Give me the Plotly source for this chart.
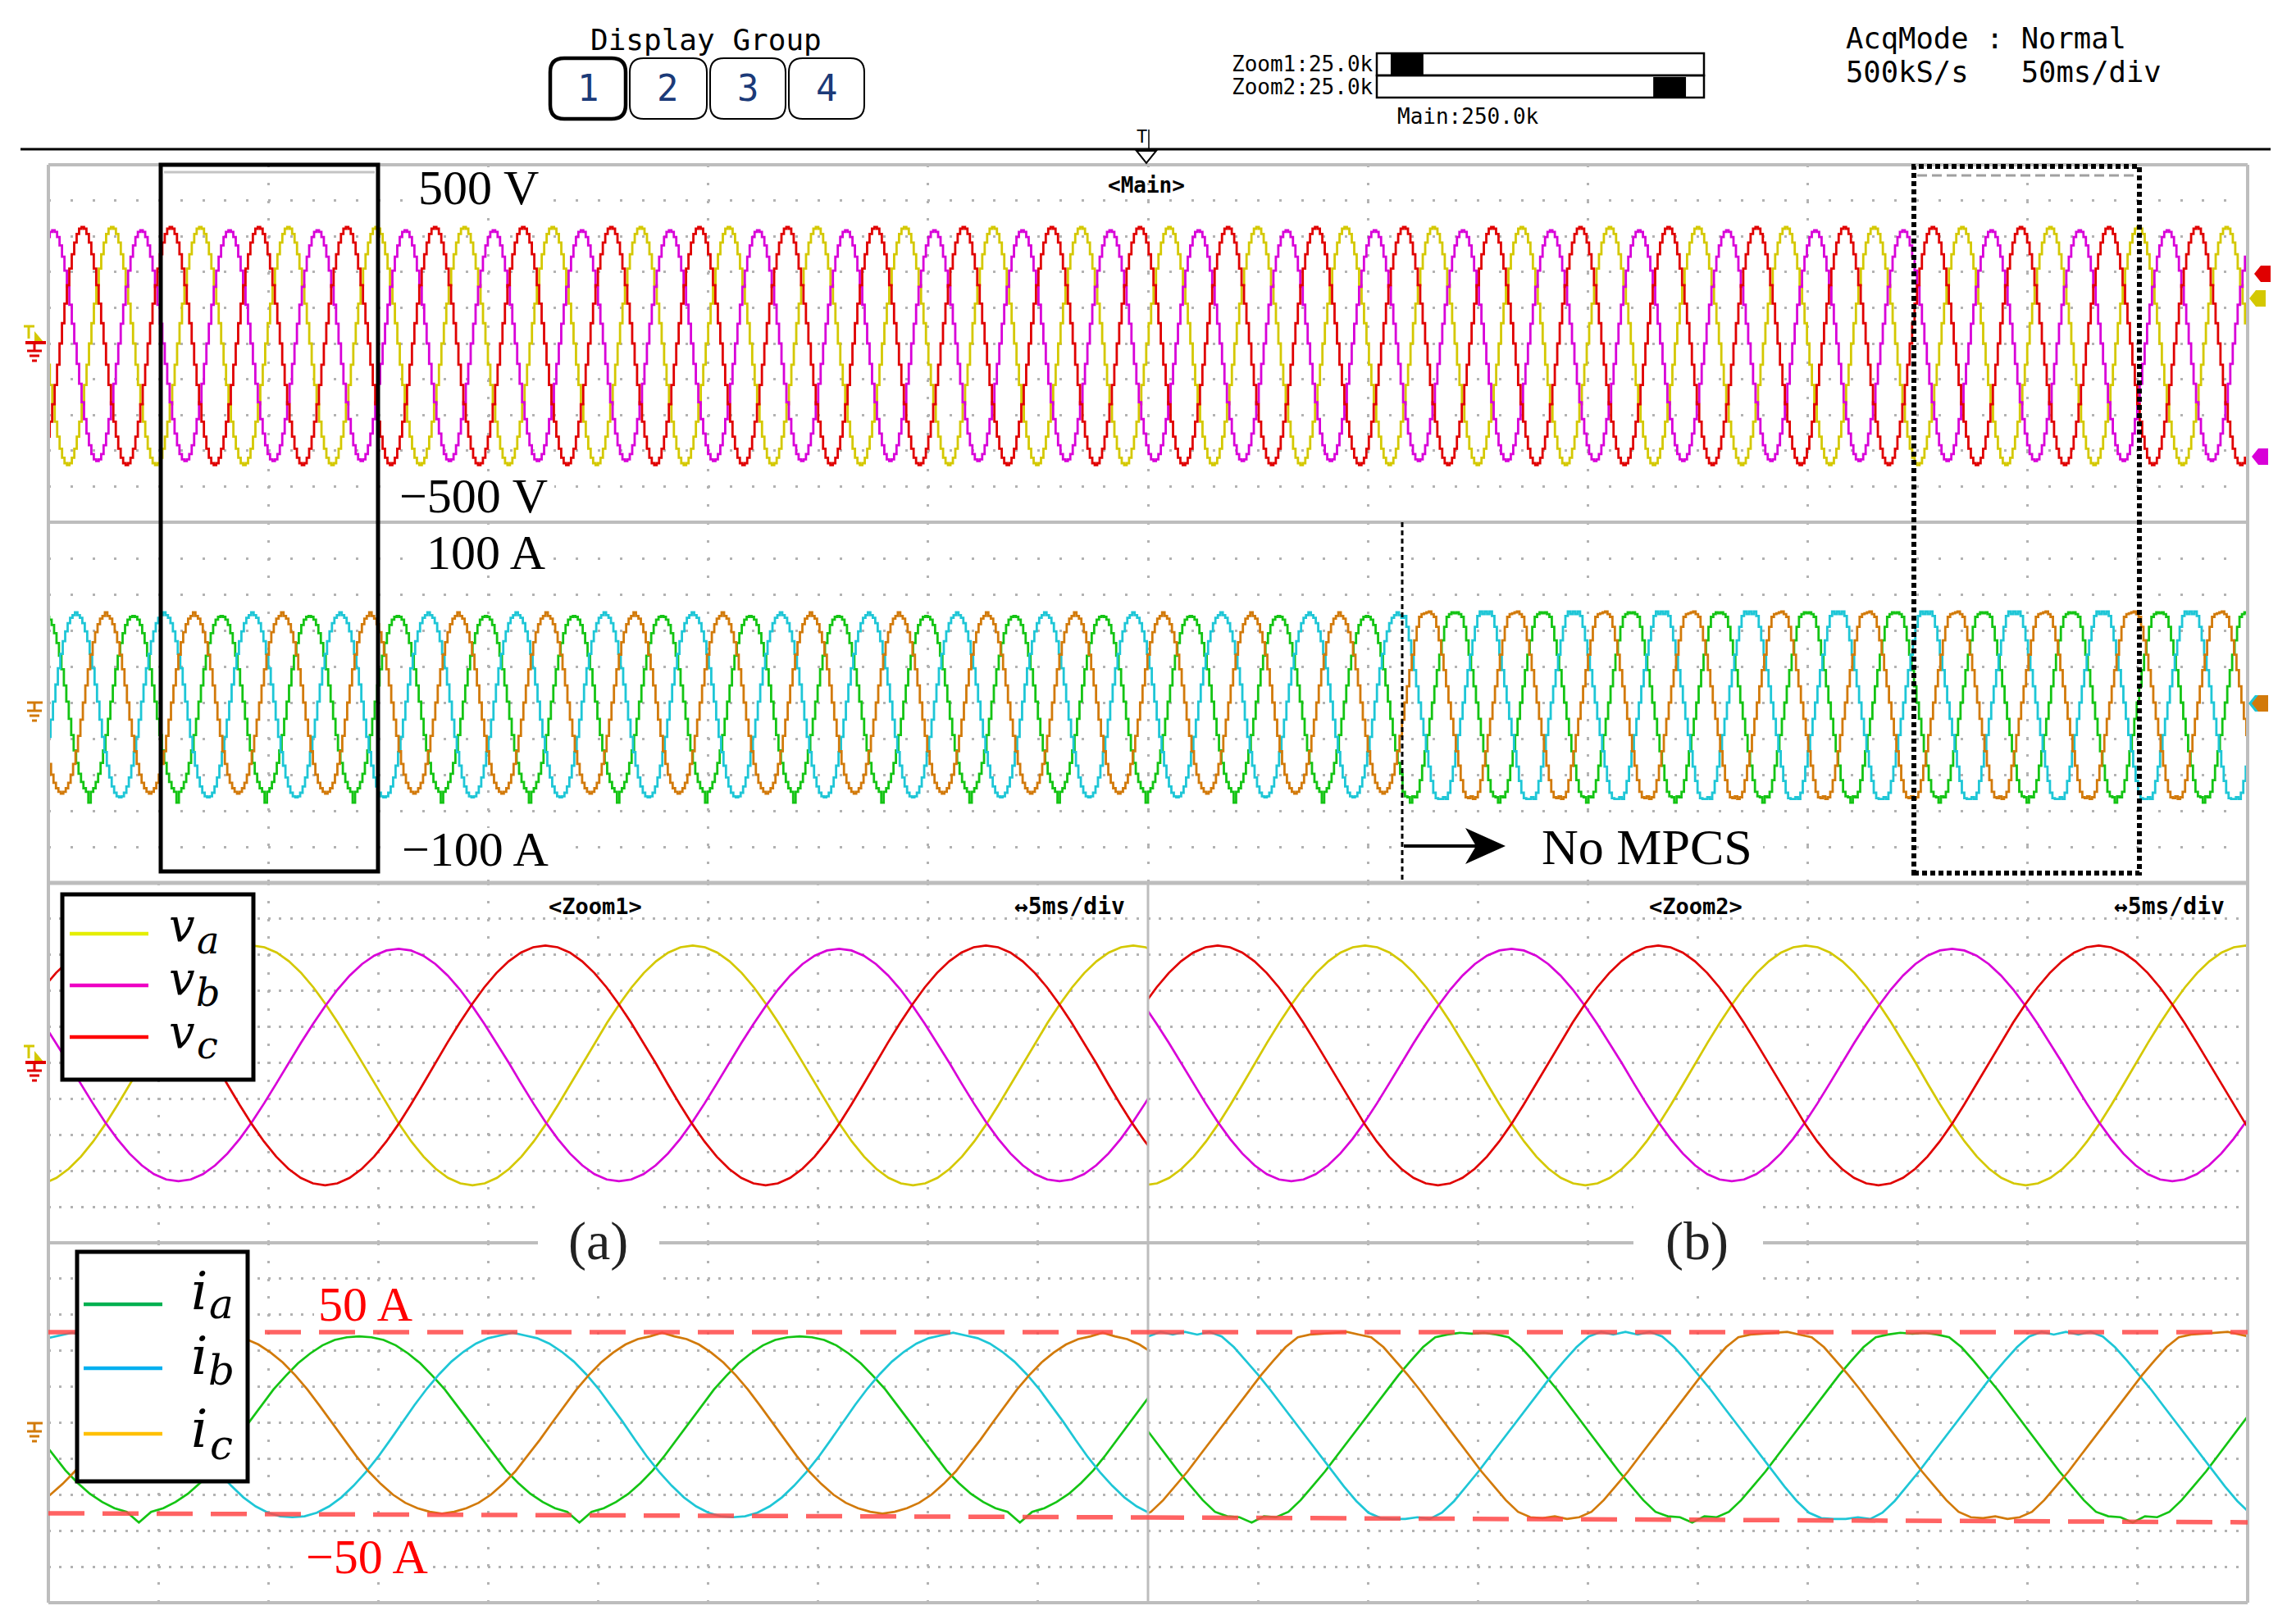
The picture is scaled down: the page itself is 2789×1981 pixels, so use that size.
import plotly.graph_objects as go

W, H = 2789, 1981

# ------------------------------------------------------------------ data
PERIOD_MS = 20.03
MAIN_RANGE_MS = [0.0, 500.0]
ZOOM1_RANGE_MS = [25.0, 75.0]
ZOOM2_RANGE_MS = [425.0, 475.0]
SWITCH_MS = 307.8            # "No MPCS" from here on
V_RANGE = [-500, 500]
I_RANGE = [-100, 100]
MAIN_TICKS_MS = [50, 100, 150, 200, 250, 300, 350, 400, 450]
ZOOM1_TICKS_MS = [30, 35, 40, 45, 50, 55, 60, 65, 70]
ZOOM2_TICKS_MS = [430, 435, 440, 445, 450, 455, 460, 465, 470]
V_TICKS = [-400, -300, -200, -100, 0, 100, 200, 300, 400]
I_TICKS = [-80, -60, -40, -20, 0, 20, 40, 60, 80]

V_NAMES = ["va", "vb", "vc"]
I_NAMES = ["ia", "ib", "ic"]

# one cycle (36 samples, 10 deg apart) starting at the positive peak
V_SHAPE = [1.00, 0.985, 0.94, 0.866, 0.766, 0.643, 0.50, 0.342, 0.174, 0.0,
           -0.174, -0.342, -0.50, -0.643, -0.766, -0.866, -0.94, -0.985, -1.00,
           -0.985, -0.94, -0.866, -0.766, -0.643, -0.50, -0.342, -0.174, 0.0,
           0.174, 0.342, 0.50, 0.643, 0.766, 0.866, 0.94, 0.985]
V_PEAK_V = [326, 317, 326]
V_TROUGH_V = [340, 329, 340]
V_PEAK_MS = [14.24, 0.87, 7.54]

# currents with MPCS (amperes)
IA_MPCS = [48.0, 47.5, 46.0, 43.0, 38.5, 33.0, 26.0, 18.5, 9.5, 0.5,
           -9.0, -18.0, -26.5, -33.5, -39.5, -44.0, -47.5, -49.5, -55.5,
           -49.5, -47.5, -44.0, -39.5, -33.5, -26.5, -18.0, -9.0, 0.5,
           9.5, 18.5, 26.0, 33.0, 38.5, 43.0, 46.0, 47.5]
IB_MPCS = [50.0, 48.5, 47.0, 44.0, 39.5, 34.0, 27.0, 19.0, 10.0, 0.5,
           -9.5, -19.0, -27.5, -35.0, -41.5, -46.5, -50.0, -52.0, -52.5,
           -52.0, -50.0, -46.5, -41.5, -35.0, -27.5, -19.0, -9.5, 0.5,
           10.0, 19.0, 27.0, 34.0, 39.5, 44.0, 47.0, 48.5]
IC_MPCS = [50.0, 48.0, 46.5, 43.5, 39.0, 33.5, 26.5, 18.5, 9.5, 0.0,
           -9.5, -18.5, -27.0, -34.0, -40.0, -44.5, -47.5, -49.5, -50.5,
           -49.5, -47.5, -44.5, -40.0, -34.0, -27.0, -18.5, -9.5, 0.0,
           9.5, 18.5, 26.5, 33.5, 39.0, 43.5, 46.5, 48.0]
# currents without MPCS (flat-topped)
IA_NOMPCS = [49.5, 50.0, 49.0, 47.5, 42.0, 34.5, 26.5, 18.0, 9.0, 0.0,
             -9.0, -18.0, -27.0, -35.0, -43.0, -49.5, -52.0, -52.5, -55.5,
             -52.0, -52.5, -49.5, -43.0, -35.0, -27.0, -18.0, -9.0, 0.0,
             9.0, 18.0, 26.5, 34.5, 42.0, 47.5, 49.0, 50.0]
IB_NOMPCS = [50.5, 49.0, 50.5, 48.0, 42.0, 34.5, 26.5, 18.0, 9.0, 0.0,
             -9.0, -18.0, -27.0, -35.5, -43.5, -50.0, -53.0, -53.5, -53.5,
             -52.5, -53.5, -50.0, -43.5, -35.5, -27.0, -18.0, -9.0, 0.0,
             9.0, 18.0, 26.5, 34.5, 42.0, 48.0, 50.5, 49.0]
IC_NOMPCS = [50.0, 50.5, 49.0, 47.5, 42.0, 34.5, 26.5, 18.0, 9.0, 0.0,
             -9.0, -18.0, -27.0, -35.0, -43.0, -49.5, -52.5, -53.0, -52.0,
             -53.5, -52.5, -49.5, -43.0, -35.0, -27.0, -18.0, -9.0, 0.0,
             9.0, 18.0, 26.5, 34.5, 42.0, 47.5, 49.0, 49.5]
I_PEAK_MS = [19.10, 6.05, 12.85]

# red dashed reference lines in the zoomed current windows (A, left -> right)
LIMIT_Z1 = [[50.3, 50.3], [-50.3, -52.6]]
LIMIT_Z2 = [[50.3, 50.3], [-52.6, -55.3]]

V_COLORS = ["#d4c800", "#d800d8", "#e00000"]
I_COLORS = ["#14c414", "#1ec6d6", "#d27a0a"]
V_LEG_COLORS = ["#e4ee00", "#ee00c4", "#ff0000"]
I_LEG_COLORS = ["#00b050", "#00b0f0", "#ffc000"]

GRID = "#b2b2b2"
FRAME = "#bdbdbd"
SERIF = "Liberation Serif"
MATH = "DejaVu Serif"
MONO = "DejaVu Sans Mono"


# ------------------------------------------------------------------ helpers
def px(x):
    return x / W


def py(y):
    return 1 - y / H


def tile(shape, t_peak, t_range, shape_after=None):
    n = len(shape)
    step = PERIOD_MS / n
    t0, t1 = t_range
    k0 = int((t0 - t_peak) // PERIOD_MS) - 1
    k1 = int((t1 - t_peak) // PERIOD_MS) + 1
    ts, ys = [], []
    for k in range(k0, k1 + 1):
        for j in range(n):
            t = t_peak + k * PERIOD_MS + j * step
            if t0 - step <= t <= t1 + step:
                use = shape_after if (shape_after is not None and t >= SWITCH_MS) else shape
                ts.append(round(t, 3))
                ys.append(use[j])
    return ts, ys


def v_cycle(i):
    return [V_PEAK_V[i] * s if s >= 0 else V_TROUGH_V[i] * s for s in V_SHAPE]


shapes = []
annots = []


def line(x0, y0, x1, y1, color, width, dash=None):
    d = dict(color=color, width=width)
    if dash:
        d["dash"] = dash
    shapes.append(dict(type="line", xref="paper", yref="paper", x0=px(x0), y0=py(y0),
                       x1=px(x1), y1=py(y1), line=d, layer="above"))


def rect(x0, y0, x1, y1, color=None, width=0, fill=None, dash=None):
    d = dict(color=color if color else "rgba(0,0,0,0)", width=width)
    if dash:
        d["dash"] = dash
    shapes.append(dict(type="rect", xref="paper", yref="paper", x0=px(x0), y0=py(y1),
                       x1=px(x1), y1=py(y0), line=d,
                       fillcolor=fill if fill else "rgba(0,0,0,0)", layer="above"))


def poly(points, fill, color=None, width=0):
    d = "M " + " L ".join(f"{px(x):.5f},{py(y):.5f}" for x, y in points) + " Z"
    shapes.append(dict(type="path", xref="paper", yref="paper", path=d, fillcolor=fill,
                       line=dict(color=color if color else fill, width=width), layer="above"))


def rounded(x0, y0, x1, y1, r, width):
    P = lambda x, y: f"{px(x):.5f},{py(y):.5f}"
    d = (f"M {P(x0 + r, y0)} L {P(x1 - r, y0)} Q {P(x1, y0)} {P(x1, y0 + r)} "
         f"L {P(x1, y1 - r)} Q {P(x1, y1)} {P(x1 - r, y1)} L {P(x0 + r, y1)} "
         f"Q {P(x0, y1)} {P(x0, y1 - r)} L {P(x0, y0 + r)} Q {P(x0, y0)} {P(x0 + r, y0)} Z")
    shapes.append(dict(type="path", xref="paper", yref="paper", path=d,
                       fillcolor="white", line=dict(color="black", width=width), layer="above"))


def text(x, y, s, size, color="black", family=SERIF, xanchor="center", bold=False, italic=False):
    if bold:
        s = f"<b>{s}</b>"
    if italic:
        s = f"<i>{s}</i>"
    annots.append(dict(x=px(x), y=py(y), xref="paper", yref="paper", text=s, showarrow=False,
                       xanchor=xanchor, yanchor="middle", borderpad=0,
                       font=dict(family=family, size=size, color=color)))


# ------------------------------------------------------------------ figure
fig = go.Figure()

# main voltages
for i, name in enumerate(V_NAMES):
    t, v = tile(v_cycle(i), V_PEAK_MS[i], MAIN_RANGE_MS)
    fig.add_trace(go.Scatter(x=t, y=v, mode="lines", line=dict(color=V_COLORS[i], width=2.8, shape="hv"),
                             xaxis="x", yaxis="y", name=name, hoverinfo="skip"))
# main currents (MPCS -> No MPCS)
I_MPCS = [IA_MPCS, IB_MPCS, IC_MPCS]
I_NOMPCS = [IA_NOMPCS, IB_NOMPCS, IC_NOMPCS]
for i, name in enumerate(I_NAMES):
    t, c = tile(I_MPCS[i], I_PEAK_MS[i], MAIN_RANGE_MS, I_NOMPCS[i])
    fig.add_trace(go.Scatter(x=t, y=c, mode="lines", line=dict(color=I_COLORS[i], width=2.8, shape="hv"),
                             xaxis="x2", yaxis="y2", name=name, hoverinfo="skip"))
# zoom windows
for (xa, ya_v, ya_i, rng, ishapes) in [("x3", "y3", "y4", ZOOM1_RANGE_MS, I_MPCS),
                                       ("x5", "y5", "y6", ZOOM2_RANGE_MS, I_NOMPCS)]:
    xa_i = "x4" if xa == "x3" else "x6"
    for i, name in enumerate(V_NAMES):
        t, v = tile(v_cycle(i), V_PEAK_MS[i], rng)
        fig.add_trace(go.Scatter(x=t, y=v, mode="lines", line=dict(color=V_COLORS[i], width=2.7),
                                 xaxis=xa, yaxis=ya_v, name=name, hoverinfo="skip"))
    for i, name in enumerate(I_NAMES):
        t, c = tile(ishapes[i], I_PEAK_MS[i], rng)
        fig.add_trace(go.Scatter(x=t, y=c, mode="lines", line=dict(color=I_COLORS[i], width=2.7),
                                 xaxis=xa_i, yaxis=ya_i, name=name, hoverinfo="skip"))

X_MAIN = [px(59), px(2741)]
X_Z1 = [px(59), px(1400)]
X_Z2 = [px(1400), px(2741)]
Y_MV = [py(637), py(201)]
Y_MI = [py(1077), py(637)]
Y_ZV = [py(1516), py(1077)]
Y_ZI = [py(1955), py(1516)]


def xax(domain, rng, ticks, anchor):
    return dict(domain=domain, range=rng, anchor=anchor, tickvals=ticks, showticklabels=False,
                ticks="", showgrid=True, gridcolor=GRID, gridwidth=3, griddash="3px,18.8px",
                zeroline=False, showline=False, fixedrange=True)


def yax(domain, rng, ticks, anchor, dash):
    return dict(domain=domain, range=rng, anchor=anchor, tickvals=ticks, showticklabels=False,
                ticks="", showgrid=True, gridcolor=GRID, gridwidth=3, griddash=dash,
                zeroline=False, showline=False, fixedrange=True)


MAIN_DASH = "3px,23.8px"
ZOOM_DASH = "3px,10.4px"

# ------------------------------------------------------------------ frame
line(59, 201, 2741, 201, FRAME, 4)
line(59, 1955, 2741, 1955, FRAME, 4)
line(59, 201, 59, 1955, FRAME, 4)
line(2741, 201, 2741, 1955, FRAME, 4)
line(59, 637, 2741, 637, FRAME, 4)
line(59, 1077, 2741, 1077, FRAME, 5)
line(59, 1516, 2741, 1516, FRAME, 4)
line(1400, 1077, 1400, 1955, FRAME, 3)

# header
line(25, 182, 2769, 182, "black", 3)
text(861, 48, "Display\u00a0Group", 36, family=MONO)
BTN_X = [(671, 763), (768, 862), (866, 958), (962, 1054)]
for k, (a, b) in enumerate(BTN_X):
    rounded(a, 71, b, 145, 17, 4.5 if k == 0 else 2)
    text((a + b) / 2, 108, str(k + 1), 44, color="#1b3a78", family=MONO)

text(1676, 78, "Zoom1:25.0k", 26, family=MONO, xanchor="right")
text(1676, 106, "Zoom2:25.0k", 26, family=MONO, xanchor="right")
BAR_X0, BAR_X1 = 1679, 2078


def bar_x(t):
    return BAR_X0 + (t - MAIN_RANGE_MS[0]) / (MAIN_RANGE_MS[1] - MAIN_RANGE_MS[0]) * (BAR_X1 - BAR_X0)


rect(bar_x(ZOOM1_RANGE_MS[0]) - 3, 66, bar_x(ZOOM1_RANGE_MS[1]) - 3, 91, fill="black")
rect(bar_x(ZOOM2_RANGE_MS[0]) - 2, 94, bar_x(ZOOM2_RANGE_MS[1]) - 2, 118, fill="black")
rect(BAR_X0, 65, BAR_X1, 92, color="black", width=2.5)
rect(BAR_X0, 92, BAR_X1, 119, color="black", width=2.5)
text(1790, 142, "Main:250.0k", 26, family=MONO)
text(2250, 46, "AcqMode\u00a0:\u00a0Normal", 35.5, family=MONO, xanchor="left")
text(2250, 87, "500kS/s\u00a0\u00a0\u00a050ms/div", 35.5, family=MONO, xanchor="left")

# trigger marker
text(1392, 166, "T", 22, family=MONO)
poly([(1386, 184), (1410, 184), (1398, 199)], "white", "black", 2)
line(1401, 158, 1401, 184, "black", 1.5)

# window titles
text(1398, 226, "&lt;Main&gt;", 26, family=MONO, bold=True)
text(726, 1105, "&lt;Zoom1&gt;", 27, family=MONO, bold=True)
text(1373, 1105, "↔5ms/div", 28, family=MONO, xanchor="right", bold=True)
text(2068, 1105, "&lt;Zoom2&gt;", 27, family=MONO, bold=True)
text(2714, 1105, "↔5ms/div", 28, family=MONO, xanchor="right", bold=True)

# value labels with white backing
for (x0, y0, x1, y1) in [(506, 205, 662, 256), (478, 580, 676, 632), (512, 645, 672, 700),
                         (478, 1010, 678, 1065), (383, 1566, 509, 1614), (366, 1874, 528, 1924)]:
    rect(x0, y0, x1, y1, fill="white")
text(583, 229, "500 V", 60)
text(577, 605, "−500 V", 60)
text(592, 674, "100 A", 60)
text(579, 1036, "−100 A", 60)
text(446, 1591, "50 A", 60, color="#ff0000")
text(447, 1899, "−50 A", 60, color="#ff0000")

# (a) / (b)
rect(656, 1465, 804, 1572, fill="white")
rect(1992, 1465, 2150, 1572, fill="white")
text(729, 1514, "(a)", 66, color="#222222")
text(2069, 1514, "(b)", 66, color="#222222")

# No MPCS marker
rect(1713, 1003, 2150, 1062, fill="white")
line(1712, 1032, 1802, 1032, "black", 4)
poly([(1836, 1032), (1787, 1010), (1800, 1032), (1787, 1054)], "black")
text(2008, 1033, "No MPCS", 62)
line(1710, 637, 1710, 1077, "black", 3, dash="6px,4px")

# zoom selection boxes
line(200, 210, 457, 210, "#c4c4c4", 3)
line(2338, 214, 2605, 214, "#a0a0a0", 3, dash="12px,6px")
rect(196, 201, 461, 1063, color="black", width=5)
rect(2334, 203, 2609, 1065, color="black", width=6, dash="6px,4px")

# red dashed limits (in data coordinates)
for (xa, ya, rng, lims) in [("x4", "y4", ZOOM1_RANGE_MS, LIMIT_Z1), ("x6", "y6", ZOOM2_RANGE_MS, LIMIT_Z2)]:
    for (ya0, ya1) in lims:
        shapes.append(dict(type="line", xref=xa, yref=ya, x0=rng[0], x1=rng[1], y0=ya0, y1=ya1,
                           line=dict(color="rgba(255,72,72,0.85)", width=5.5, dash="44px,22px"),
                           layer="above"))

# legends
rect(76, 1091, 309, 1317, color="black", width=5, fill="white")
for k, (yl, sub, yv, ys) in enumerate([(1139, "a", 1128, 1147), (1202, "b", 1193, 1211),
                                       (1265, "c", 1258, 1275)]):
    line(85, yl, 181, yl, V_LEG_COLORS[k], 4.5)
    text(222, yv, "v", 56, family=MATH, italic=True)
    text(253, ys, sub, 46, family=MATH, italic=True)
rect(94, 1527, 302, 1807, color="black", width=5, fill="white")
for k, (yl, sub, yi, ys) in enumerate([(1591, "a", 1575, 1591), (1669, "b", 1654, 1672),
                                       (1749, "c", 1743, 1763)]):
    line(102, yl, 198, yl, I_LEG_COLORS[k], 4.5)
    text(243, yi, "i", 64, family=MATH, italic=True)
    text(270, ys, sub, 50, family=MATH, italic=True)


# left ground markers
def ground(cx, ytop, color):
    line(cx, ytop, cx, ytop + 10, color, 3)
    line(cx - 9, ytop + 10, cx + 9, ytop + 10, color, 3)
    line(cx - 6, ytop + 16, cx + 6, ytop + 16, color, 3)
    line(cx - 3, ytop + 22, cx + 3, ytop + 22, color, 3)


for dy in (0, 878):
    line(29, 398 + dy, 42, 398 + dy, V_COLORS[0], 3)
    line(35, 398 + dy, 35, 413 + dy, V_COLORS[0], 3)
    poly([(42, 404 + dy), (53, 417 + dy), (42, 417 + dy)], V_COLORS[0])
    line(31, 418 + dy, 56, 418 + dy, V_COLORS[2], 4)
    ground(42, 418 + dy, V_COLORS[2])
for dy in (0, 879):
    line(33, 857 + dy, 52, 857 + dy, I_COLORS[2], 3)
    ground(42, 857 + dy, I_COLORS[2])


# right offset markers
def pent(x0, yc, color):
    poly([(x0, yc), (x0 + 8, yc - 10), (x0 + 20, yc - 10), (x0 + 20, yc + 10), (x0 + 8, yc + 10)], color)


pent(2749, 334, V_COLORS[2])
pent(2743, 364, V_COLORS[0])
pent(2746, 557, V_COLORS[1])
pent(2742, 858, I_COLORS[1])
pent(2746, 858, I_COLORS[2])

fig.update_layout(
    width=W, height=H, margin=dict(l=0, r=0, t=0, b=0),
    paper_bgcolor="white", plot_bgcolor="white", showlegend=False,
    font=dict(family=MONO),
    xaxis=xax(X_MAIN, MAIN_RANGE_MS, MAIN_TICKS_MS, "y"),
    yaxis=yax(Y_MV, V_RANGE, V_TICKS, "x", MAIN_DASH),
    xaxis2=xax(X_MAIN, MAIN_RANGE_MS, MAIN_TICKS_MS, "y2"),
    yaxis2=yax(Y_MI, I_RANGE, I_TICKS, "x2", MAIN_DASH),
    xaxis3=xax(X_Z1, ZOOM1_RANGE_MS, ZOOM1_TICKS_MS, "y3"),
    yaxis3=yax(Y_ZV, V_RANGE, V_TICKS, "x3", ZOOM_DASH),
    xaxis4=xax(X_Z1, ZOOM1_RANGE_MS, ZOOM1_TICKS_MS, "y4"),
    yaxis4=yax(Y_ZI, I_RANGE, I_TICKS, "x4", ZOOM_DASH),
    xaxis5=xax(X_Z2, ZOOM2_RANGE_MS, ZOOM2_TICKS_MS, "y5"),
    yaxis5=yax(Y_ZV, V_RANGE, V_TICKS, "x5", ZOOM_DASH),
    xaxis6=xax(X_Z2, ZOOM2_RANGE_MS, ZOOM2_TICKS_MS, "y6"),
    yaxis6=yax(Y_ZI, I_RANGE, I_TICKS, "x6", ZOOM_DASH),
    shapes=shapes, annotations=annots,
)

fig.write_html("out.html", config={"displayModeBar": False},
               post_script="document.body.style.margin='0px';document.body.style.overflow='hidden';")
